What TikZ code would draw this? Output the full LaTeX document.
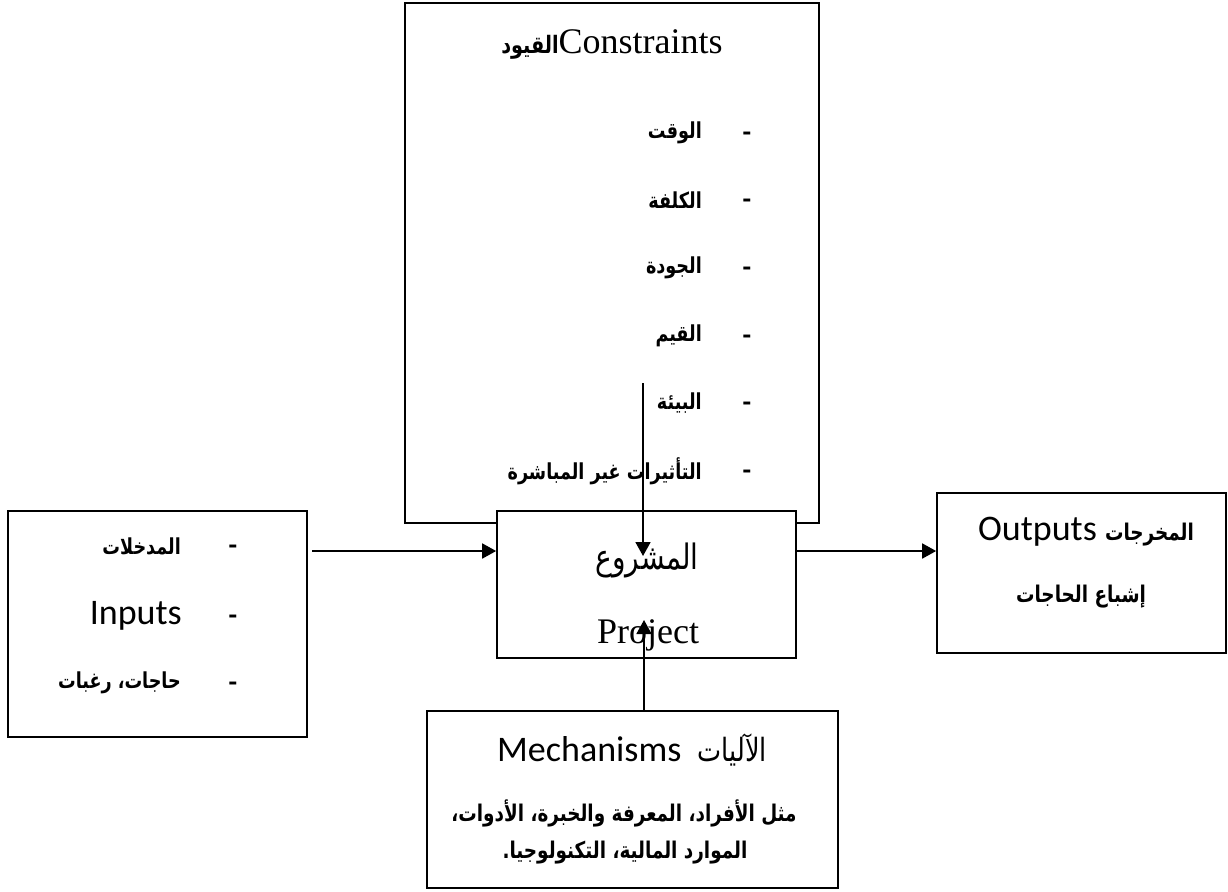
\documentclass[tikz,border=0pt]{standalone}
\usepackage{fontspec}
\setmainfont{Liberation Serif}
\newfontfamily\arabicfont[Script=Arabic,FakeStretch=0.8]{DejaVu Sans}
\newfontfamily\calfont{Carlito}
\TeXXeTstate=1
\usetikzlibrary{arrows.meta}
\newcommand{\AR}[1]{{\arabicfont\beginR #1\endR}}
\begin{document}
\begin{tikzpicture}[x=1pt,y=-1pt,
  box/.style={draw, line width=1.7pt, fill=white, inner sep=0pt},
  arr/.style={line width=1.8pt, -{Triangle[length=14pt,width=15pt]}},
  ar/.style={font=\arabicfont\bfseries\fontsize{22}{26}\selectfont, inner sep=0pt},
  arb/.style={font=\arabicfont\bfseries\fontsize{23}{27}\selectfont, inner sep=0pt},
  dsh/.style={font=\calfont\bfseries\fontsize{28}{30}\selectfont, inner sep=0pt, anchor=base},
  latin/.style={font=\fontsize{36}{40}\selectfont, inner sep=0pt},
  calib/.style={font=\calfont\fontsize{36}{40}\selectfont, inner sep=0pt}
]
\useasboundingbox (0,0) rectangle (1228,891);

% boxes
\node[box, minimum width=414, minimum height=520] (cons) at (612,263) {};
\node[box, minimum width=299, minimum height=147] (proj) at (646.5,584.5) {};
\node[box, minimum width=299, minimum height=226] (inp) at (157.5,624) {};
\node[box, minimum width=289, minimum height=160] (out) at (1081.5,573) {};
\node[box, minimum width=411, minimum height=177] (mech) at (632.5,799.5) {};

% constraints text
\node[latin, anchor=base] (ctitle) at (612,53) {{\arabicfont\bfseries\fontsize{24}{28}\selectfont\beginR القيود\endR}Constraints};
\node[ar, anchor=east] (c1) at (702,133) {\AR{الوقت}};
\node[ar, anchor=east] (c2) at (702,200) {\AR{الكلفة}};
\node[ar, anchor=east] (c3) at (702,268) {\AR{الجودة}};
\node[ar, anchor=east] (c4) at (702,336) {\AR{القيم}};
\node[ar, anchor=east] (c5) at (702,403) {\AR{البيئة}};
\node[ar, anchor=east] (c6) at (702,471) {\AR{التأثيرات غير المباشرة}};
\node[dsh] (d1) at (747,141) {-};
\node[dsh] (d2) at (747,208) {-};
\node[dsh] (d3) at (747,276) {-};
\node[dsh] (d4) at (747,344) {-};
\node[dsh] (d5) at (747,411) {-};
\node[dsh] (d6) at (747,479) {-};

% inputs text
\node[ar, anchor=east] (i1) at (181,546) {\AR{المدخلات}};
\node[calib, anchor=east] (i2) at (182,616) {Inputs};
\node[ar, anchor=east] (i3) at (181,683) {\AR{حاجات، رغبات}};
\node[dsh] (e1) at (233,554) {-};
\node[dsh] (e2) at (233,624) {-};
\node[dsh] (e3) at (233,691) {-};

% project text
\node[inner sep=0pt, font=\arabicfont\fontsize{35}{40}\selectfont] (p1) at (647,560) {\AR{المشروع}};
\node[latin, anchor=base] (p2) at (648,643) {Project};

% outputs text
\node[calib] (o1) at (1086,532) {Outputs {\arabicfont\bfseries\fontsize{23}{27}\selectfont\beginR المخرجات\endR}};
\node[arb] (o2) at (1081,597) {\AR{إشباع الحاجات}};

% mechanisms text
\node[calib] (m1) at (632,750) {Mechanisms\ \ {\arabicfont\fontsize{32}{36}\selectfont\beginR الآليات\endR}};
\node[arb] (m2) at (624,813) {\AR{مثل الأفراد، المعرفة والخبرة، الأدوات،}};
\node[arb] (m3) at (625,853) {\AR{الموارد المالية، التكنولوجيا.}};

% connectors
\coordinate (inA) at (312,551);
\draw[arr] (inA) -- (inA -| proj.west);
\draw[arr] (proj.east |- inA) -- (out.west |- inA);
\coordinate (cA) at (643,383);
\coordinate (cB) at (643,556);
\draw[arr] (cA) -- (cB);
\coordinate (mB) at (644,620);
\draw[arr] (mech.north -| mB) -- (mB);
\end{tikzpicture}
\end{document}
